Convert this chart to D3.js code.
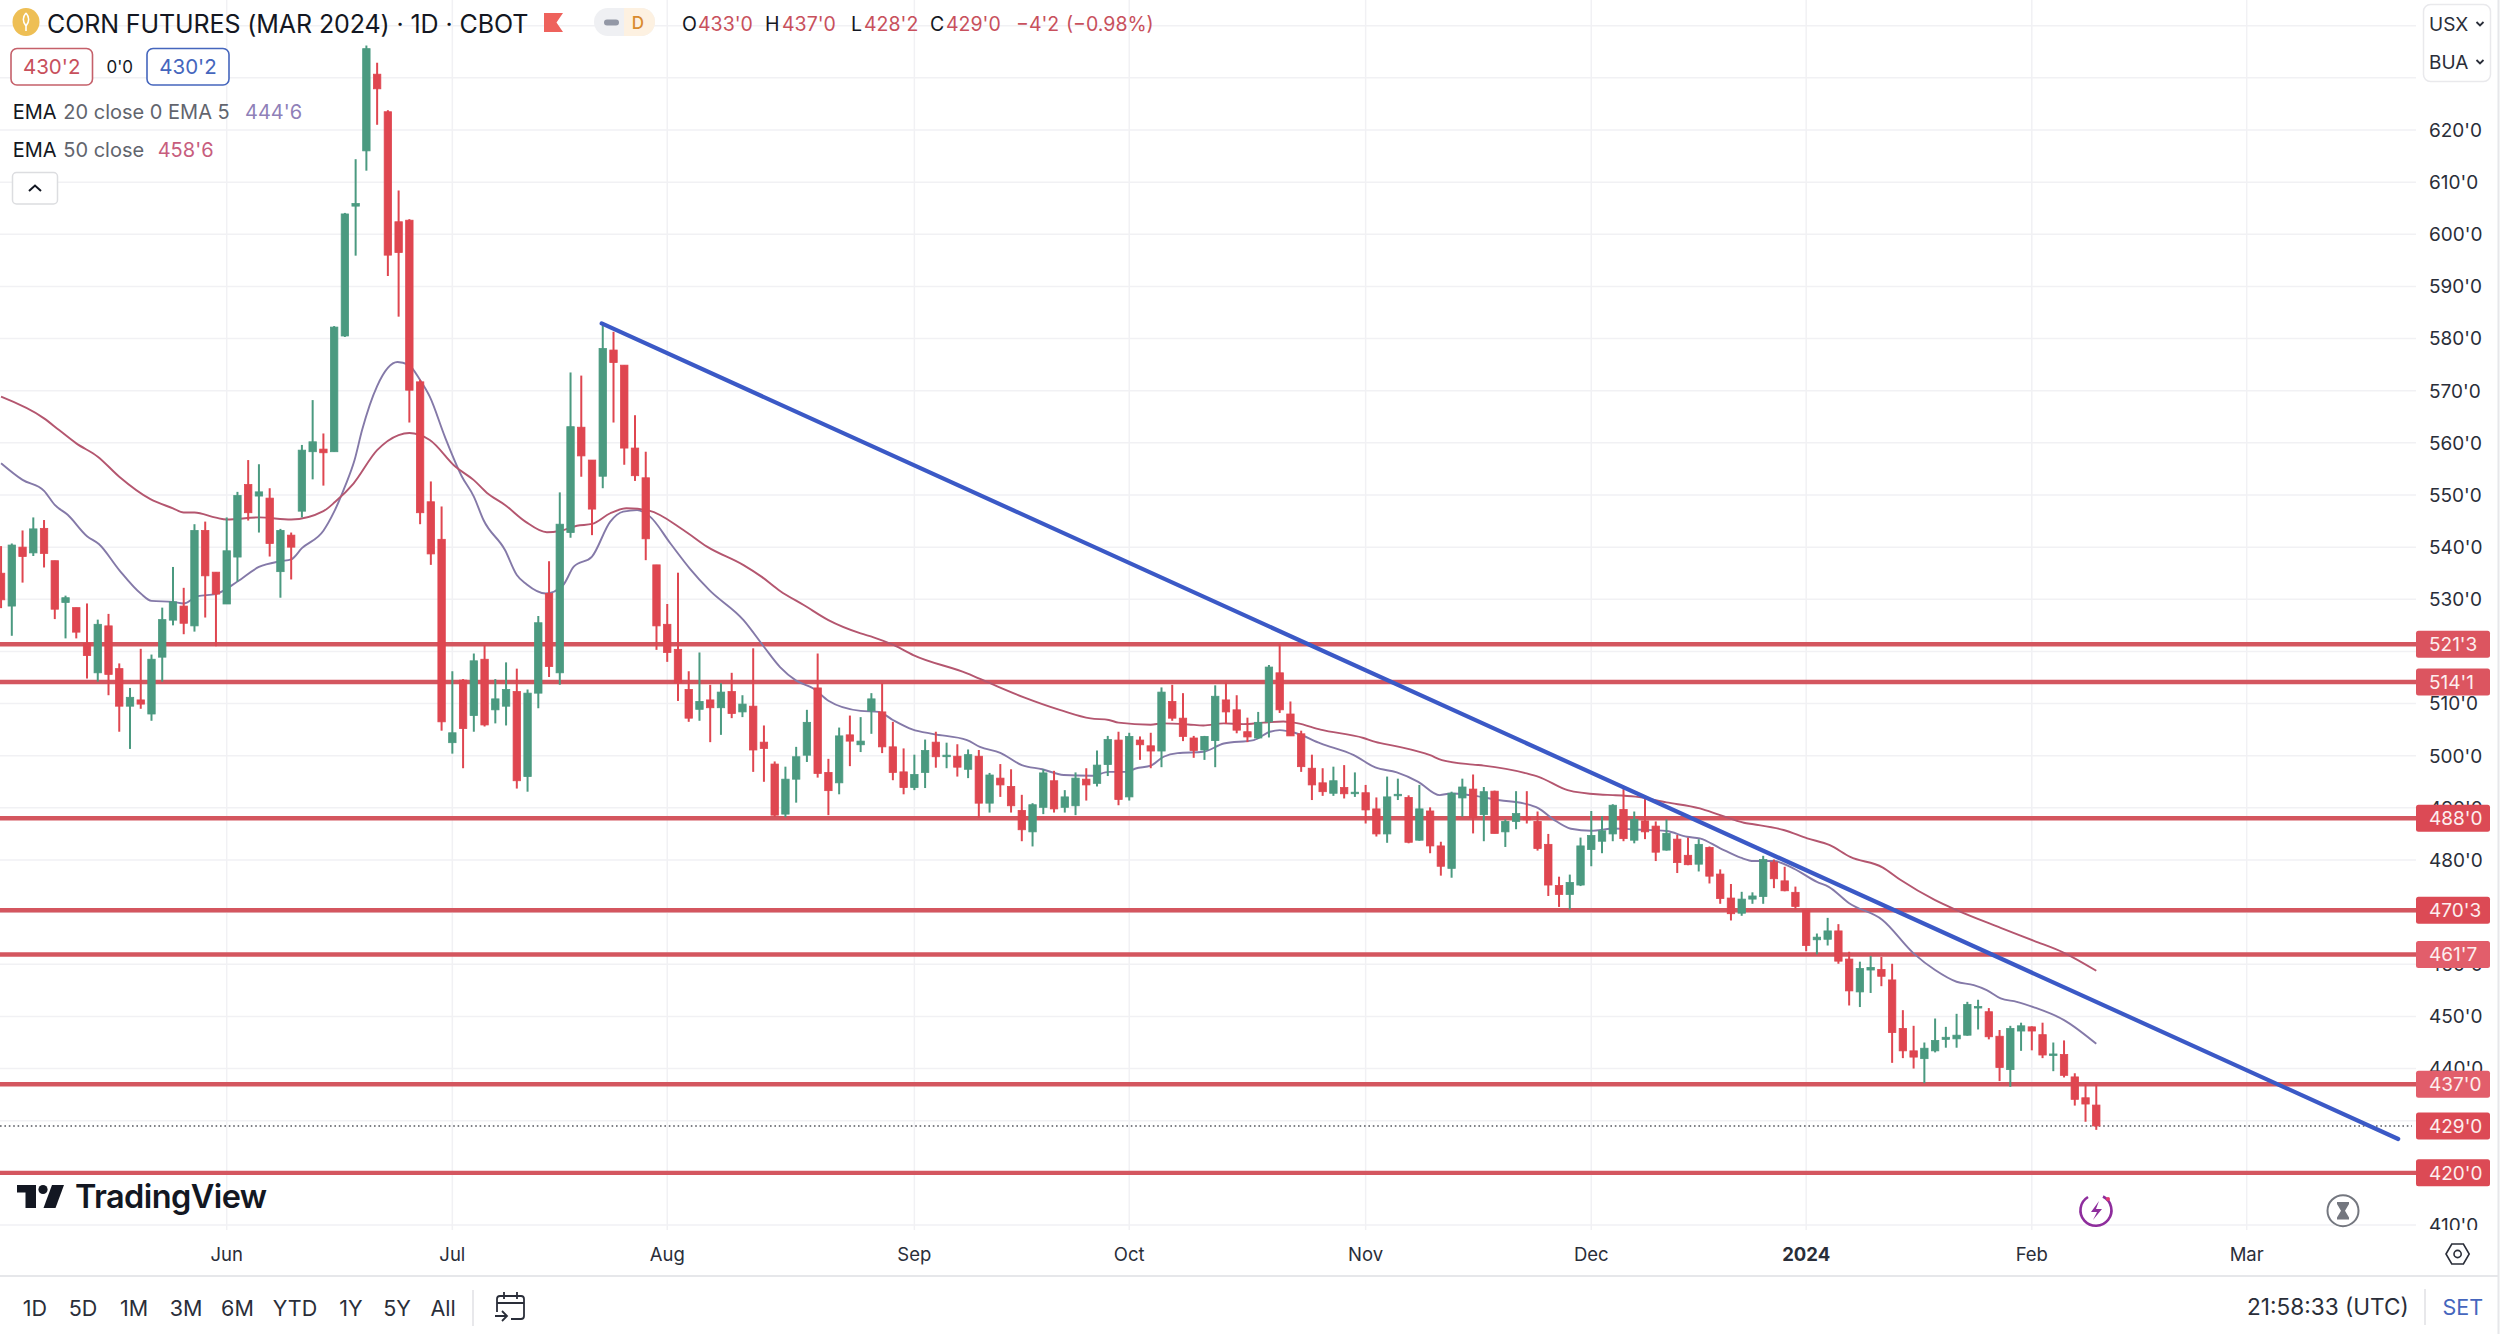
<!DOCTYPE html>
<html>
<head>
<meta charset="utf-8">
<title>Corn futures</title>
<script src="https://cdn.jsdelivr.net/npm/d3@7/dist/d3.min.js"></script>
<style>
  html, body { margin: 0; padding: 0; background: #fff; }
  svg { display: block; }
  text { font-family: Inter, "Noto Sans", sans-serif; }
</style>
</head>
<body>
<div id="chart"></div>
<script>
// daily candles, index 0 is the leftmost bar
const opens = [
  535.0,528.7,540.0,538.9,543.6,537.4,529.4,528.4,521.5,515.9,
  524.9,516.7,509.5,510.7,508.0,518.9,526.0,528.7,524.9,543.2,
  535.2,529.1,538.1,552.0,549.8,549.4,535.3,542.3,546.9,558.3,
  558.8,558.3,580.5,605.4,616.0,630.7,623.5,602.4,602.7,571.7,
  548.7,541.5,502.5,514.5,507.7,518.5,508.8,509.5,512.3,496.0,
  512.0,531.1,515.9,542.8,563.0,556.7,553.6,577.8,574.9,559.0,
  553.3,536.6,525.2,520.4,512.7,508.9,510.7,509.2,512.3,508.4,
  509.5,502.6,498.4,488.8,495.5,500.1,513.0,496.8,494.8,504.0,
  502.1,508.6,508.4,501.7,496.9,493.9,496.8,502.6,499.9,499.9,
  497.4,499.9,490.9,495.7,494.1,489.5,485.4,490.1,495.2,490.1,
  490.4,495.5,494.7,498.3,503.0,492.1,503.0,501.9,500.9,510.4,
  507.2,503.4,501.1,502.9,510.7,508.8,504.6,503.4,506.5,515.9,
  508.0,504.2,497.6,494.8,492.8,493.9,492.8,492.9,489.8,485.0,
  492.4,492.0,483.8,489.4,482.7,478.4,491.9,493.6,488.7,493.2,
  485.4,487.4,488.2,487.4,483.0,475.1,473.4,475.2,482.0,483.6,
  485.0,489.7,483.8,487.5,486.5,481.9,484.0,480.9,479.2,482.4,
  477.3,472.7,469.8,472.5,473.0,479.6,476.0,473.8,470.4,464.7,
  464.8,466.4,461.0,454.7,458.9,459.0,457.0,447.7,443.4,441.9,
  443.4,445.6,445.7,446.4,451.7,450.9,446.2,439.8,447.2,448.0,
  446.5,442.6,442.7,438.4,434.4,433.0];
const highs = [
  540.2,540.7,543.2,545.7,545.2,537.4,530.7,528.4,529.2,526.1,
  527.2,517.7,513.0,520.5,519.4,528.4,536.2,532.2,544.4,544.9,
  535.2,545.7,550.6,556.7,555.9,551.3,543.5,542.8,559.6,568.2,
  561.8,582.4,604.1,614.4,636.2,632.9,623.8,608.4,602.9,572.1,
  552.6,547.8,516.2,514.7,519.6,521.2,514.7,517.9,516.7,512.7,
  526.8,537.3,550.5,573.5,572.9,556.7,582.9,581.3,574.9,565.3,
  558.3,536.6,529.1,535.1,516.2,519.8,513.6,513.9,515.9,511.6,
  520.6,505.8,498.9,497.9,501.7,508.8,519.6,499.4,505.4,507.7,
  507.4,512.0,513.9,506.5,501.4,500.2,503.1,504.6,502.5,502.2,
  501.2,501.1,496.7,498.4,497.4,492.5,490.9,497.4,497.1,493.4,
  496.8,497.6,501.0,503.8,504.6,504.4,503.7,504.4,513.1,513.6,
  512.0,503.8,503.8,513.5,514.0,511.6,507.3,508.4,517.4,521.4,
  510.4,504.8,500.2,497.6,497.9,498.2,496.8,494.4,492.0,496.0,
  495.6,492.4,494.4,490.1,483.5,493.1,495.6,496.4,494.0,493.3,
  487.8,493.2,493.2,489.3,485.0,476.8,477.2,484.3,489.4,488.4,
  490.7,493.6,489.3,491.8,487.4,487.8,484.8,484.3,484.0,482.6,
  478.2,475.4,473.9,473.8,480.8,480.1,478.7,474.9,470.4,465.9,
  468.9,467.7,462.4,460.5,461.6,461.4,460.1,451.2,448.2,445.0,
  449.6,448.0,450.5,452.8,453.2,451.6,447.4,448.2,448.8,448.1,
  448.8,445.0,445.4,439.1,437.0,437.0];
const lows = [
  528.3,523.0,533.2,538.3,536.1,526.2,522.5,522.5,514.8,514.2,
  511.6,504.6,501.3,509.0,506.7,514.2,525.0,523.3,523.8,526.5,
  521.0,529.1,533.4,545.1,542.8,538.2,530.3,533.8,545.7,553.0,
  551.8,558.3,580.3,595.9,612.2,621.0,592.0,584.2,563.9,544.4,
  536.6,504.8,500.4,497.6,504.6,505.6,506.2,505.8,493.7,493.1,
  509.1,515.1,513.6,541.8,553.5,542.3,551.3,563.9,555.8,552.7,
  537.5,520.3,518.0,510.5,506.5,506.7,502.6,504.0,507.2,507.4,
  496.9,495.0,488.3,488.2,491.0,498.8,495.8,488.6,492.6,498.0,
  500.7,504.2,500.5,495.3,492.6,493.4,493.8,497.7,497.6,496.0,
  495.7,488.1,489.1,492.1,489.1,483.6,482.6,488.8,489.1,489.1,
  488.6,491.4,494.1,496.1,490.5,491.4,499.2,497.6,497.8,506.7,
  502.8,499.6,499.2,497.8,506.1,504.3,502.6,503.2,503.5,508.2,
  503.8,496.9,491.5,492.3,492.3,491.8,492.1,487.0,484.5,483.3,
  491.5,483.2,483.7,481.3,477.0,476.6,488.3,485.1,483.6,485.1,
  482.5,485.9,487.0,481.8,473.1,471.0,470.5,475.0,478.8,481.3,
  483.6,483.6,483.2,484.0,479.8,481.8,477.5,479.0,477.8,475.5,
  471.6,468.4,469.3,471.6,471.6,474.6,474.0,470.5,462.5,461.9,
  463.6,460.1,452.1,451.8,454.5,455.8,441.1,442.0,440.0,437.2,
  443.1,444.0,444.0,446.3,447.5,445.6,437.6,436.5,443.4,443.5,
  442.0,439.5,438.3,432.9,429.8,428.25];
const closes = [
  529.9,540.4,538.2,543.5,538.8,528.1,530.3,523.7,519.2,525.2,
  515.6,509.5,511.2,509.9,518.5,526.1,529.5,525.4,543.2,534.5,
  531.0,539.3,549.9,546.6,550.6,540.7,543.2,540.0,558.6,560.2,
  558.1,582.2,603.9,605.9,635.6,627.9,596.0,596.5,570.1,546.6,
  538.7,506.5,504.4,505.2,518.2,505.9,510.9,512.7,495.2,512.0,
  525.5,517.1,544.4,563.1,557.5,547.3,578.1,575.4,559.0,553.7,
  541.6,524.9,519.8,514.0,507.2,510.4,509.2,512.2,508.1,509.9,
  501.1,501.4,488.6,495.5,499.8,506.4,496.6,493.3,503.8,502.8,
  502.8,510.9,501.7,496.8,493.9,496.4,501.0,499.8,500.1,497.8,
  500.2,490.9,496.3,494.4,490.4,485.8,490.6,496.7,489.8,492.1,
  495.7,494.4,498.2,503.1,491.6,503.7,502.1,500.9,512.2,507.2,
  503.7,501.0,503.7,511.4,508.4,504.9,503.6,506.4,517.0,508.8,
  503.8,497.9,494.4,493.1,495.2,492.7,493.0,489.6,485.0,492.1,
  492.6,483.4,489.8,482.7,478.8,492.8,494.0,488.1,493.1,485.1,
  487.4,488.9,487.7,482.2,475.2,473.4,475.7,482.7,484.7,485.6,
  490.5,484.1,487.8,485.4,481.5,485.1,479.5,479.1,483.0,476.9,
  472.6,469.7,472.5,473.1,480.1,476.4,474.1,471.1,463.6,465.2,
  466.4,460.6,454.9,459.2,459.4,457.7,446.9,443.4,442.2,443.9,
  445.4,446.0,446.4,452.3,451.9,446.1,440.2,447.7,448.2,447.2,
  442.6,442.8,438.7,434.1,433.2,429.0];

// EMA curves, read at the bends of the line: bar index, then price
const emaShortBars = [0,2,4,5,6.2,8,9.1,11,13,14,16,17,18.3,20,22,24,26,27,28,30,31,32,32.9,33.6,35,36.9,37.9,39,39.9,41.3,42.9,44,44.9,46.9,48,48.9,50.7,52.3,53.3,55,56.7,57.9,59.2,60.4,62.3,64.1,65.9,69.1,71,72.5,74,75.6,77,80,81.7,83,84.8,86.8,89.9,91.1,93,95,96.9,98.9,101.5,103.1,104.8,105.6,107,108.2,109.5,111.9,113.8,116.6,118.1,119,120.4,122.8,125.9,127.9,129.9,131.9,133.9,134.9,136.7,139.5,141.7,143.1,144.5,146.1,148,150.1,152.1,155,156.9,158.1,160,161.9,163.1,165,166.8,169,170.1,172,175.1,178,180,182,183.6,184.8,186.1,187.6,189.2,192,195];
const emaShortVals = [556.1,552.9,550.8,548.1,546.2,542.1,540.6,535.6,531.1,529.7,529.5,529.2,530.6,531.0,533.4,536.2,537.3,537.65,539.8,543.15,546.8,551.6,556.7,562.45,570.9,575.5,575.0,572.05,568.85,561.2,553.5,549.7,545.2,539.45,534.65,532.9,531.1,532.7,536.25,538.2,544.9,546.8,547.1,545.85,540.7,535.9,531.8,526.0,520.9,517.0,514.4,512.9,510.55,508.6,508.4,506.85,505.05,504.15,503.0,501.7,500.55,498.2,497.4,496.3,496.15,496.9,496.9,497.55,498.1,499.8,500.5,500.75,502.35,503,504.6,504.9,504.4,502.35,500.1,497.75,496.8,495,492.45,492.75,492.45,491.45,490.85,489.9,487.75,486,485.6,486.05,485.85,485.55,484.45,484.15,482.25,480.45,479.8,479.8,478.4,475.8,474.85,471.7,468.5,462.1,458.9,456.65,456.0,455.05,453.45,452.8,451.75,449.3,444.75];
const emaLongBars = [0,4,5.4,7,9,11,13.9,16,17,18,20,21,24,27,30,31.1,32.8,35,37,38,39.9,42.3,44,45.2,46.9,48.8,50.8,52,53.6,55,56.7,58.2,60.3,63.5,65.7,69.1,70.8,72.5,74.7,77,80,81.2,83.1,84.9,89.9,92.1,95.2,98.6,101.4,103.1,104,107,108.1,110.5,111.9,113.8,115.6,117.5,119.35,120.6,122.8,126.8,127.9,129.9,133,134.1,137,138,142,143.1,145.8,148.8,150,152.1,155,158.1,160,162.2,163.1,165.9,168.1,170.2,172.1,175.1,176.8,180,182,186.1,189.2,192,195];
const emaLongVals = [568.85,564.7,562.45,559.9,557.35,553.5,549.2,547.45,546.65,546.65,545.65,545.3,545.7,545.3,546.9,548.7,552.2,558.6,561.5,561.9,560.55,555.4,552.85,550.45,548.1,544.9,542.85,543.1,544.1,544.45,546.5,547.45,547,543.3,540.1,536.55,534.3,531.6,528.9,526,523.45,522.7,521.2,519.3,515.8,513.85,511.2,508.75,507.15,506.85,506.35,505.95,506.2,506,505.8,506.2,506.05,506.35,506.55,506.25,505,503.4,502.65,501.8,500.1,499.15,498.3,498.1,496.6,495.95,493.4,492.55,492.45,492.15,491.05,489.9,488.6,487.15,486.85,485.75,484.15,482.85,480.6,478.6,476.15,472.3,470.4,467,464.5,462.2,458.75];

// drawn levels and the trend line
const levels = [521.375, 514.125, 488, 470.375, 461.875, 437, 420];
const levelLabels = ["521'3", "514'1", "488'0", "470'3", "461'7", "437'0", "420'0"];
const levelFills = ["#dc5560", "#dc5560", "#dc4a55", "#dc4a55", "#e25e6b", "#e25e6b", "#dc4a55"];
const trendBars = [55.9, 223.1];
const trendVals = [582.9, 426.5];
const lastPrice = 429;
const lastLabel = "429'0";

// axes, 520 430 and 420 sit fully under the price tags so they are left out
const gridTicks = d3.range(640, 400, -10);
const priceTicks = [620, 610, 600, 590, 580, 570, 560, 550, 540, 530, 510, 500, 490, 480, 470, 460, 450, 440, 410];
const monthBars = [21, 42, 62, 85, 105, 127, 148, 168, 189, 209];
const monthNames = ["Jun", "Jul", "Aug", "Sep", "Oct", "Nov", "Dec", "2024", "Feb", "Mar"];
const ranges = ["1D", "5D", "1M", "3M", "6M", "YTD", "1Y", "5Y", "All"];
const rangeCentres = [35, 83, 134, 186, 237.5, 295, 351, 397, 443];

const width = 2500, height = 1334;
const paneRight = 2416, paneBottom = 1230;
const red = "#df4650", green = "#4b9a80";

const x = d3.scaleLinear().domain([21, 209]).range([226.7, 2246.7]);
const y = d3.scaleLinear().domain([620, 410]).range([130, 1225]);

const svg = d3.select("#chart").append("svg")
  .attr("width", width)
  .attr("height", height);

// clip for the plot and for the price labels, the lowest one is cut off
svg.append("clipPath").attr("id", "pane")
  .append("rect").attr("width", paneRight).attr("height", paneBottom);
svg.append("clipPath").attr("id", "priceClip")
  .append("rect").attr("x", paneRight).attr("width", width - paneRight).attr("height", paneBottom);

// grid
const grid = svg.append("g").attr("clip-path", "url(#pane)").attr("stroke", "#f1f1f4").attr("stroke-width", 1.5);
grid.selectAll(".h").data(gridTicks).join("line")
  .attr("class", "h")
  .attr("x1", 0).attr("x2", paneRight)
  .attr("y1", d => y(d)).attr("y2", d => y(d));
grid.selectAll(".v").data(monthBars).join("line")
  .attr("class", "v")
  .attr("x1", d => x(d)).attr("x2", d => x(d))
  .attr("y1", 0).attr("y2", paneBottom);

const plot = svg.append("g").attr("clip-path", "url(#pane)");

// levels go under the candles
plot.selectAll(".level").data(levels).join("line")
  .attr("class", "level")
  .attr("x1", 0).attr("x2", paneRight)
  .attr("y1", d => y(d)).attr("y2", d => y(d))
  .attr("stroke", "#d4565f")
  .attr("stroke-width", 4.4);

plot.append("line")
  .attr("x1", 0).attr("x2", 2412)
  .attr("y1", y(lastPrice)).attr("y2", y(lastPrice))
  .attr("stroke", "#55585f")
  .attr("stroke-width", 1.6)
  .attr("stroke-dasharray", "1.6 2.8");

// EMAs
const emaLine = d3.line().x(d => x(d[0])).y(d => y(d[1])).curve(d3.curveMonotoneX);
plot.append("path")
  .attr("d", emaLine(emaShortBars.map((b, i) => [b, emaShortVals[i]])))
  .attr("fill", "none").attr("stroke", "#8479a8").attr("stroke-width", 1.9);
plot.append("path")
  .attr("d", emaLine(emaLongBars.map((b, i) => [b, emaLongVals[i]])))
  .attr("fill", "none").attr("stroke", "#b4566f").attr("stroke-width", 1.9);

// candles
const bars = opens.map((o, i) => ({ i: i, o: o, h: highs[i], l: lows[i], c: closes[i] }));
const candle = plot.selectAll(".candle").data(bars).join("g")
  .attr("class", "candle")
  .attr("fill", d => d.c >= d.o ? green : red)
  .attr("stroke", d => d.c >= d.o ? green : red);
candle.append("line")
  .attr("x1", d => x(d.i)).attr("x2", d => x(d.i))
  .attr("y1", d => y(d.h)).attr("y2", d => y(d.l))
  .attr("stroke-width", 2);
candle.append("rect")
  .attr("x", d => x(d.i) - 3.7)
  .attr("width", 7.4)
  .attr("y", d => y(Math.max(d.o, d.c)))
  .attr("height", d => Math.max(1.5, Math.abs(y(d.o) - y(d.c))))
  .attr("stroke-width", 0.8);

// trend line
plot.append("line")
  .attr("x1", x(trendBars[0])).attr("y1", y(trendVals[0]))
  .attr("x2", x(trendBars[1])).attr("y2", y(trendVals[1]))
  .attr("stroke", "#3b59c6")
  .attr("stroke-width", 4.2)
  .attr("stroke-linecap", "round");

// price scale
svg.append("g").attr("clip-path", "url(#priceClip)")
  .selectAll("text").data(priceTicks).join("text")
  .attr("x", 2429).attr("y", d => y(d))
  .attr("dy", "0.36em")
  .attr("font-size", 19)
  .attr("fill", "#2a2e39")
  .text(d => d + "'0");

const tags = levels.map((v, i) => ({ v: v, t: levelLabels[i], f: levelFills[i] }))
  .concat([{ v: lastPrice, t: lastLabel, f: "#dc4a55" }]);
const tag = svg.append("g").selectAll("g").data(tags).join("g")
  .attr("transform", d => "translate(2416," + y(d.v) + ")");
tag.append("rect")
  .attr("y", -13.5).attr("width", 74).attr("height", 27).attr("rx", 2.5)
  .attr("fill", d => d.f);
tag.append("text")
  .attr("x", 13).attr("dy", "0.36em")
  .attr("font-size", 19).attr("fill", "#fdeeee")
  .text(d => d.t);

// currency / unit box
svg.append("rect")
  .attr("x", 2423.5).attr("y", 4.5).attr("width", 67).attr("height", 77).attr("rx", 7)
  .attr("fill", "#fff").attr("stroke", "#e9e9ec").attr("stroke-width", 1.5);
[["USX", 24], ["BUA", 62]].forEach(function (u) {
  svg.append("text").attr("x", 2429).attr("y", u[1]).attr("dy", "0.36em")
    .attr("font-size", 19).attr("fill", "#2a2e39").text(u[0]);
  svg.append("path")
    .attr("d", "M2476.5," + (u[1] - 2) + "l3.5,3.5l3.5,-3.5")
    .attr("fill", "none").attr("stroke", "#2a2e39").attr("stroke-width", 1.8);
});

// time scale
svg.append("g").selectAll("text").data(monthBars).join("text")
  .attr("x", d => x(d)).attr("y", 1254).attr("dy", "0.36em")
  .attr("text-anchor", "middle")
  .attr("font-size", 18.5)
  .attr("font-weight", (d, i) => monthNames[i] === "2024" ? 700 : 400)
  .attr("fill", "#2a2e39")
  .text((d, i) => monthNames[i]);

// settings hexagon on the time scale
svg.append("path").attr("d", "M2446,1254l5.8,-10h11.6l5.8,10l-5.8,10h-11.6z")
  .attr("fill", "none").attr("stroke", "#2a2e39").attr("stroke-width", 1.6);
svg.append("circle").attr("cx", 2457.6).attr("cy", 1254).attr("r", 3.6)
  .attr("fill", "none").attr("stroke", "#2a2e39").attr("stroke-width", 1.6);

// watermark logo
const logo = svg.append("g").attr("fill", "#131722");
logo.append("path").attr("d", "M17,1185H36V1208H25.5V1192.5H17Z");
logo.append("circle").attr("cx", 43).attr("cy", 1189.5).attr("r", 4.6);
logo.append("path").attr("d", "M52,1185H64L55.5,1208H43.5Z");
logo.append("text").attr("x", 75).attr("y", 1208)
  .attr("font-size", 32.5).attr("font-weight", 600).attr("letter-spacing", -0.6)
  .text("TradingView");

// little round badges near the last bar
const bolt = svg.append("g").attr("fill", "none").attr("stroke", "#8e2d9c").attr("stroke-width", 2.6);
bolt.append("path").attr("d", "M2103,1196.5A15.5,15.5,0,1,1,2088,1197");
bolt.append("path").attr("d", "M2099,1201L2091,1212H2097L2093,1220L2102,1209H2096Z")
  .attr("fill", "#8e2d9c").attr("stroke", "none");
bolt.append("circle").attr("cx", 2108).attr("cy", 1199).attr("r", 2).attr("fill", "#e0396f").attr("stroke", "none");

const glass = svg.append("g");
glass.append("circle").attr("cx", 2343).attr("cy", 1210.7).attr("r", 15.5)
  .attr("fill", "#fff").attr("stroke", "#74777f").attr("stroke-width", 2);
glass.append("path").attr("d", "M2337,1202H2349V1204L2345,1210.7L2349,1217.5V1219.5H2337V1217.5L2341,1210.7L2337,1204Z")
  .attr("fill", "#74777f");

// header
const header = svg.append("g");
header.append("ellipse").attr("cx", 26).attr("cy", 22).attr("rx", 13.5).attr("ry", 14).attr("fill", "#eebf55");
header.append("path").attr("d", "M26,13c-3.5,4 -3.5,9 0,13c3.5,-4 3.5,-9 0,-13M26,26v5")
  .attr("fill", "none").attr("stroke", "#fff").attr("stroke-width", 1.6);
header.append("text").attr("x", 47).attr("y", 24).attr("dy", "0.36em")
  .attr("font-size", 25).attr("fill", "#131722").attr("letter-spacing", -0.1)
  .text("CORN FUTURES (MAR 2024) · 1D · CBOT");
header.append("path").attr("d", "M544,13H563L556.5,22.5L563,32H544Z").attr("fill", "#ee625c");

header.append("rect").attr("x", 594).attr("y", 8).attr("width", 61).attr("height", 28).attr("rx", 14).attr("fill", "#eff0f3");
header.append("path").attr("d", "M624,8H641A14,14,0,0,1,641,36H624Z").attr("fill", "#fdf1e1");
header.append("rect").attr("x", 604).attr("y", 19.5).attr("width", 15).attr("height", 6).attr("rx", 3).attr("fill", "#9398a6");
header.append("text").attr("x", 638).attr("y", 23).attr("dy", "0.36em").attr("text-anchor", "middle")
  .attr("font-size", 17).attr("font-weight", 500).attr("fill", "#d98b2e").text("D");

const ohlcBits = [
  ["O", 682, "#131722"], ["433'0", 698, "#c8505c"],
  ["H", 765, "#131722"], ["437'0", 782, "#c8505c"],
  ["L", 851, "#131722"], ["428'2", 864, "#c8505c"],
  ["C", 930, "#131722"], ["429'0", 946, "#c8505c"],
  ["−4'2", 1016, "#c8505c"], ["(−0.98%)", 1066, "#c8505c"]];
header.selectAll(".ohlc").data(ohlcBits).join("text")
  .attr("class", "ohlc")
  .attr("x", d => d[1]).attr("y", 24).attr("dy", "0.36em")
  .attr("font-size", 19.5).attr("fill", d => d[2])
  .text(d => d[0]);

// bid / ask boxes
header.append("rect").attr("x", 11).attr("y", 48.5).attr("width", 81.5).attr("height", 36.5).attr("rx", 6)
  .attr("fill", "#fff").attr("stroke", "#c5606a").attr("stroke-width", 1.6);
header.append("text").attr("x", 51.7).attr("y", 67).attr("dy", "0.36em").attr("text-anchor", "middle")
  .attr("font-size", 20.5).attr("fill", "#c8505c").text("430'2");
header.append("text").attr("x", 119.7).attr("y", 67).attr("dy", "0.36em").attr("text-anchor", "middle")
  .attr("font-size", 17).attr("fill", "#131722").text("0'0");
header.append("rect").attr("x", 147).attr("y", 48.5).attr("width", 82).attr("height", 36.5).attr("rx", 6)
  .attr("fill", "#fff").attr("stroke", "#4566bd").attr("stroke-width", 1.6);
header.append("text").attr("x", 188).attr("y", 67).attr("dy", "0.36em").attr("text-anchor", "middle")
  .attr("font-size", 20.5).attr("fill", "#4566bd").text("430'2");

// indicator legend
const legendBits = [
  ["EMA", 12.7, 112, "#131722"], ["20 close 0 EMA 5", 63.3, 112, "#62656e"], ["444'6", 245, 112, "#8f80b8"],
  ["EMA", 12.7, 150, "#131722"], ["50 close", 63.3, 150, "#62656e"], ["458'6", 157.7, 150, "#c75d7d"]];
header.selectAll(".leg").data(legendBits).join("text")
  .attr("class", "leg")
  .attr("x", d => d[1]).attr("y", d => d[2]).attr("dy", "0.36em")
  .attr("font-size", 20).attr("fill", d => d[3])
  .text(d => d[0]);
header.append("rect").attr("x", 12.5).attr("y", 172.5).attr("width", 45).attr("height", 31.5).attr("rx", 4)
  .attr("fill", "#fff").attr("stroke", "#dcdde0").attr("stroke-width", 1.5);
header.append("path").attr("d", "M29,191l6,-5.5l6,5.5")
  .attr("fill", "none").attr("stroke", "#131722").attr("stroke-width", 2);

// bottom toolbar
svg.append("line").attr("x1", 0).attr("x2", 2498).attr("y1", 1276).attr("y2", 1276)
  .attr("stroke", "#e6e7ea").attr("stroke-width", 2);
svg.append("line").attr("x1", 2498.5).attr("x2", 2498.5).attr("y1", 0).attr("y2", height)
  .attr("stroke", "#e6e7ea").attr("stroke-width", 2);
svg.append("g").selectAll("text").data(ranges).join("text")
  .attr("x", (d, i) => rangeCentres[i]).attr("y", 1308).attr("dy", "0.36em")
  .attr("text-anchor", "middle").attr("font-size", 21.5).attr("fill", "#2a2e39")
  .text(d => d);
svg.append("line").attr("x1", 473).attr("x2", 473).attr("y1", 1290).attr("y2", 1326)
  .attr("stroke", "#e0e1e4").attr("stroke-width", 1.5);
const cal = svg.append("g").attr("fill", "none").attr("stroke", "#2a2e39").attr("stroke-width", 1.8);
cal.append("path").attr("d", "M497,1312V1299a3,3,0,0,1,3,-3H521a3,3,0,0,1,3,3V1316a3,3,0,0,1,-3,3H511");
cal.append("path").attr("d", "M497,1303H524M504,1292V1299M517,1292V1299");
cal.append("path").attr("d", "M495,1316H507M502,1311l5,5l-5,5");

svg.append("text").attr("x", 2247).attr("y", 1307).attr("dy", "0.36em")
  .attr("font-size", 22.6).attr("fill", "#2a2e39").text("21:58:33 (UTC)");
svg.append("line").attr("x1", 2425).attr("x2", 2425).attr("y1", 1289).attr("y2", 1325)
  .attr("stroke", "#e0e1e4").attr("stroke-width", 1.5);
svg.append("text").attr("x", 2442.5).attr("y", 1307).attr("dy", "0.36em")
  .attr("font-size", 21.5).attr("fill", "#4566bd").text("SET");
</script>
</body>
</html>
